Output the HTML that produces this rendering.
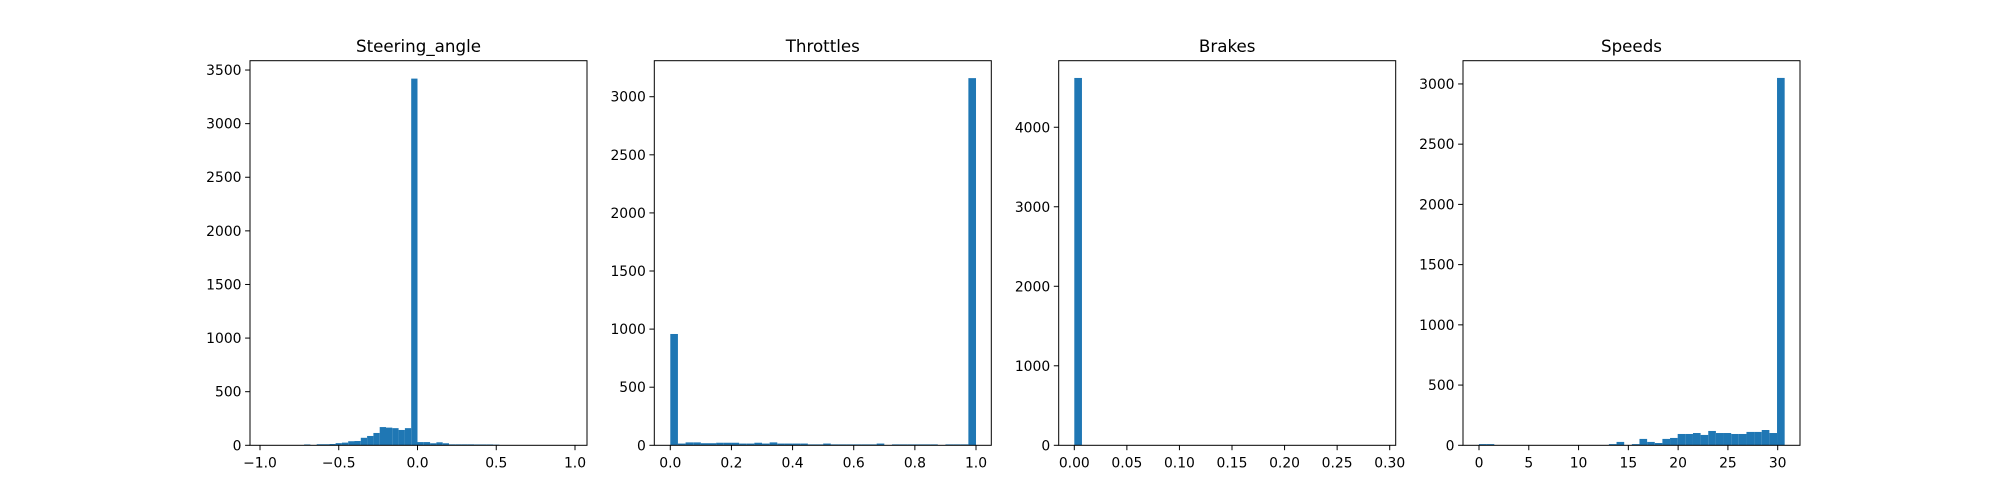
<!DOCTYPE html>
<html><head><meta charset="utf-8"><style>
html,body{margin:0;padding:0;background:#fff;}
svg{display:block;font-family:"DejaVu Sans","Liberation Sans",sans-serif;}
</style></head><body>
<svg id="fig" width="2000" height="500" viewBox="0 0 2000 500"></svg>
<script>
// Steering_angle: bins of width 0.04 starting at -1.0
const steerStart = -1.0, steerWidth = 0.04;
const steerCounts = [0,0,0,0,0,0,0,8,2,10,10,12,20,25,38,40,70,87,115,170,165,160,143,160,3420,30,30,19,28,19,9,9,9,9,8,8,8,6,0,0,0,0,0,0,0,0,0,0,0,0];
const steerXTicks = [-1.0,-0.5,0.0,0.5,1.0];
const steerXLabels = ["\u22121.0","\u22120.5","0.0","0.5","1.0"];
const steerYTicks = [0,500,1000,1500,2000,2500,3000,3500];

// Throttles: 40 bins from 0 to 1
const thrStart = 0, thrWidth = 0.025;
const thrCounts = [958,15,25,25,18,18,22,22,22,15,15,22,15,25,15,15,15,15,8,8,15,8,8,8,8,8,8,15,0,8,8,8,8,8,8,0,8,8,8,3160];
const thrXTicks = [0,0.2,0.4,0.6,0.8,1.0];
const thrXLabels = ["0.0","0.2","0.4","0.6","0.8","1.0"];
const thrYTicks = [0,500,1000,1500,2000,2500,3000];

// Brakes: 40 bins from 0 to ~0.291
const brkStart = 0, brkWidth = 0.00728;
const brkCounts = [4620,1,0,0,0,0,0,0,0,0,0,0,0,0,0,0,0,0,0,0,0,0,0,0,0,0,0,0,0,0,0,0,0,0,0,0,0,0,0,1];
const brkXTicks = [0,0.05,0.10,0.15,0.20,0.25,0.30];
const brkXLabels = ["0.00","0.05","0.10","0.15","0.20","0.25","0.30"];
const brkYTicks = [0,1000,2000,3000,4000];

// Speeds: 40 bins from 0 to ~30.7
const spdStart = 0, spdWidth = 0.7675;
const spdCounts = [10,10,0,0,0,0,0,0,0,0,0,0,0,0,0,0,0,10,28,0,10,53,28,19,53,61,94,94,102,86,119,102,102,94,94,111,111,127,102,3050];
const spdXTicks = [0,5,10,15,20,25,30];
const spdXLabels = ["0","5","10","15","20","25","30"];
const spdYTicks = [0,500,1000,1500,2000,2500,3000];

const NS = "http://www.w3.org/2000/svg";
const svg = document.getElementById('fig');
function mk(tag, attrs, parent){
  const e = document.createElementNS(NS, tag);
  for (const k in attrs) e.setAttribute(k, attrs[k]);
  (parent||svg).appendChild(e);
  return e;
}
const TOP = 60.7, BOT = 445.3, AW = 337;

function panel(key, title, left, xmin, xmax, ymax, start, width, counts, xt, xl, yt){
  const g = mk('g', {});
  
  
  const sx = v => left + (v - xmin) / (xmax - xmin) * AW;
  const sy = v => BOT - v / ymax * (BOT - TOP);
  counts.forEach((c, i) => {
    if (c <= 0) return;
    const x0 = sx(start + i * width), x1 = sx(start + (i + 1) * width);
    const r = mk('rect', {x: x0, y: sy(c), width: Math.max(x1 - x0, 0.5), height: BOT - sy(c), fill: '#1f77b4'}, g);
    
    
  });
  const fr = mk('rect', {x: left, y: TOP, width: AW, height: BOT - TOP, fill: 'none', stroke: '#000', 'stroke-width': 1}, g);
  
  
  xt.forEach((v, i) => {
    const x = sx(v);
    mk('line', {x1: x, x2: x, y1: BOT, y2: BOT + 4.9, stroke: '#000', 'stroke-width': 1}, g);
    const t = mk('text', {x: x, y: BOT + 22, 'font-size': 13.9, 'text-anchor': 'middle', fill: '#000'}, g);
    t.textContent = xl[i];
    
    
  });
  yt.forEach(v => {
    const y = sy(v);
    mk('line', {x1: left - 4.9, x2: left, y1: y, y2: y, stroke: '#000', 'stroke-width': 1}, g);
    const t = mk('text', {x: left - 8.5, y: y + 5, 'font-size': 13.9, 'text-anchor': 'end', fill: '#000'}, g);
    t.textContent = String(v);
    
    
  });
  const tt = mk('text', {x: left + AW / 2, y: TOP - 8.5, 'font-size': 16.7, 'text-anchor': 'middle', fill: '#000'}, g);
  tt.textContent = title;
  
  
}
panel('steering', 'Steering_angle', 250, -1.0635, 1.0762, 3587, steerStart, steerWidth, steerCounts, steerXTicks, steerXLabels, steerYTicks);
panel('throttles', 'Throttles', 654.3, -0.0523, 1.0500, 3310, thrStart, thrWidth, thrCounts, thrXTicks, thrXLabels, thrYTicks);
panel('brakes', 'Brakes', 1058.7, -0.01484, 0.3057, 4837, brkStart, brkWidth, brkCounts, brkXTicks, brkXLabels, brkYTicks);
panel('speeds', 'Speeds', 1463, -1.607, 32.24, 3193, spdStart, spdWidth, spdCounts, spdXTicks, spdXLabels, spdYTicks);
</script>
</body></html>
